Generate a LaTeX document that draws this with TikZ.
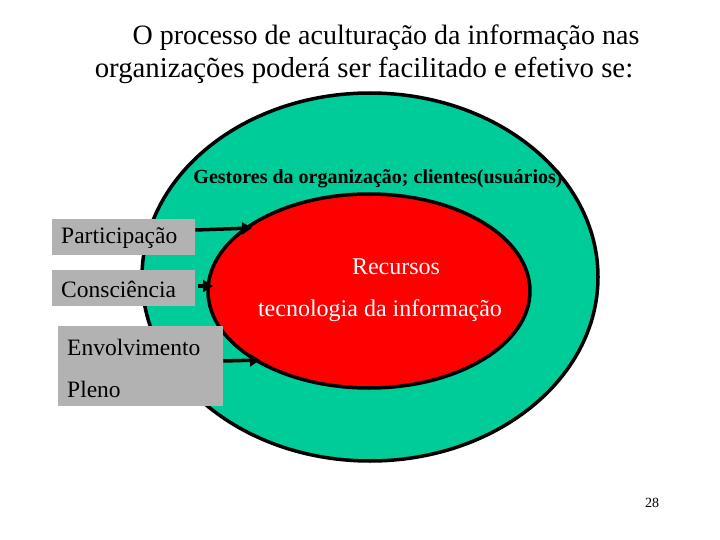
\documentclass[tikz,border=0pt]{standalone}
\usepackage{fontspec}
\setmainfont{Liberation Serif}
\usetikzlibrary{arrows.meta}
\begin{document}
\begin{tikzpicture}[x=1pt,y=-1pt,
  gbox/.style={fill=gray!60,draw=none,anchor=north west,inner sep=0pt},
  lbl/.style={anchor=west,font=\fontsize{23.5}{28}\selectfont,inner sep=0pt},
  arr/.style={line width=3.5pt,-{Triangle[length=10pt,width=12pt]}}]
\useasboundingbox (0,0) rectangle (720,540);
\fill[white] (0,0) rectangle (720,540);
\node[font=\fontsize{28}{33}\selectfont] (t1) at (386,38) {O processo de aculturação da informação nas};
\node[font=\fontsize{28.8}{33}\selectfont] (t2) at (364,70) {organizações poderá ser facilitado e efetivo se:};
\draw[line width=3.5pt,fill={rgb,255:red,0;green,204;blue,153}] (370,277) ellipse [x radius=228,y radius=184];
\node[font=\bfseries\fontsize{20}{24}\selectfont] (g) at (378,179) {Gestores da organização; clientes(usuários)};
\draw[line width=3.5pt,fill=red] (369,291) ellipse [x radius=161,y radius=97];
\node[white,font=\fontsize{24}{28}\selectfont] (r1) at (396,267) {Recursos};
\node[white,font=\fontsize{24}{28}\selectfont] (r2) at (380,311) {tecnologia da informação};
\node[gbox,minimum width=143,minimum height=36] (p) at (52,219) {};
\node[lbl] (pt) at (61,238) {Participação};
\node[gbox,minimum width=143,minimum height=36] (c) at (52,270) {};
\node[lbl] (ct) at (61,289) {Consciência};
\node[gbox,minimum width=165,minimum height=80] (e) at (58,326) {};
\node[lbl] (et) at (67,347) {Envolvimento};
\node[lbl] (pl) at (67,389) {Pleno};
\coordinate (a1) at (252,228);
\coordinate (a2) at (213,286);
\coordinate (a3) at (260,360);
\draw[arr] (p.east |- 0,230) -- (a1);
\draw[arr] (198,286) -- (a2);
\draw[arr] (e.east |- 0,361) -- (a3);
\node[font=\fontsize{14}{16}\selectfont] (n) at (652,503) {28};
\end{tikzpicture}
\end{document}
